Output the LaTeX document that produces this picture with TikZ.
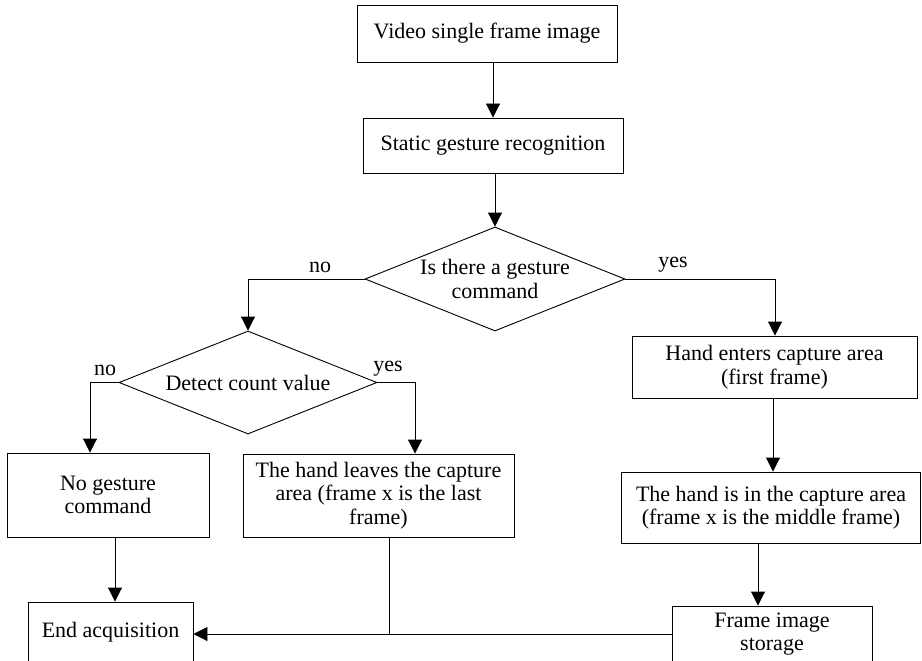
\documentclass[tikz,border=0pt]{standalone}
\usepackage{fontspec}
\setmainfont{Liberation Serif}
\usetikzlibrary{arrows.meta,shapes.geometric}

\begin{document}
\begin{tikzpicture}[x=1pt,y=-1pt,
  every node/.style={font=\fontsize{22}{23.5}\selectfont, inner sep=0pt},
  box/.style={draw, line width=0.9pt, align=center},
  dia/.style={draw, line width=0.9pt, diamond, aspect=1},
  lbl/.style={},
  link/.style={line width=0.9pt},
  arr/.style={line width=0.9pt, -{Triangle[width=14pt,length=14pt]}}
]
\useasboundingbox (0,0) rectangle (922,661);

% process boxes
\node[box, minimum width=260, minimum height=57] (b1) at (487,33.5) {Video single frame image};
\node[box, minimum width=260, minimum height=55] (b2) at (493,145.5) {Static gesture recognition};
\node[box, minimum width=202, minimum height=84] (b3) at (108,495) {No gesture\\command};
\node[box, minimum width=271, minimum height=83] (b4) at (378.5,495.5) {The hand leaves the capture\\area (frame x is the last\\frame)};
\node[box, minimum width=285, minimum height=62] (b5) at (774.5,367) {Hand enters capture area\\(first frame)};
\node[box, minimum width=299, minimum height=71] (b6) at (771,507.5) {The hand is in the capture area\\(frame x is the middle frame)};
\node[box, minimum width=200, minimum height=56] (b7) at (772,634) {Frame image\\storage};
\node[box, minimum width=165, minimum height=60] (b8) at (110.5,632) {End acquisition};

% decisions
\node[dia, minimum width=260, minimum height=104,
      label={[align=center]center:Is there a gesture\\command}] (d1) at (495,279) {};
\node[dia, minimum width=258, minimum height=103,
      label={center:Detect count value}] (d2) at (248,382.5) {};

% branch labels
\node[lbl] (n1) at (320,267) {no};
\node[lbl] (y1) at (673,265) {yes};
\node[lbl] (n2) at (105,370) {no};
\node[lbl] (y2) at (388,369) {yes};

% connectors
\draw[arr] (b2.north |- b1.south) -- (b2.north);
\draw[arr] (d1.north |- b2.south) -- (d1.north);
\draw[arr] (d1.west) -| (d2.north);
\draw[arr] (d1.east) -| ([xshift=0.5]b5.north);
\draw[arr] (d2.west) -| ([xshift=-18]b3.north);
\draw[arr] (d2.east) -| ([xshift=36.5]b4.north);
\draw[arr] ([xshift=4.5]b8.north |- b3.south) -- ([xshift=4.5]b8.north);
\draw[arr] ([xshift=2]b6.north |- b5.south) -- ([xshift=2]b6.north);
\draw[arr] ([xshift=-14]b7.north |- b6.south) -- ([xshift=-14]b7.north);
\draw[arr] (b7.west) -- (b7.west -| b8.east);
\draw[link] ([xshift=10.5]b4.south) -- ([xshift=10.5]b4.south |- b7.west);
\end{tikzpicture}
\end{document}
